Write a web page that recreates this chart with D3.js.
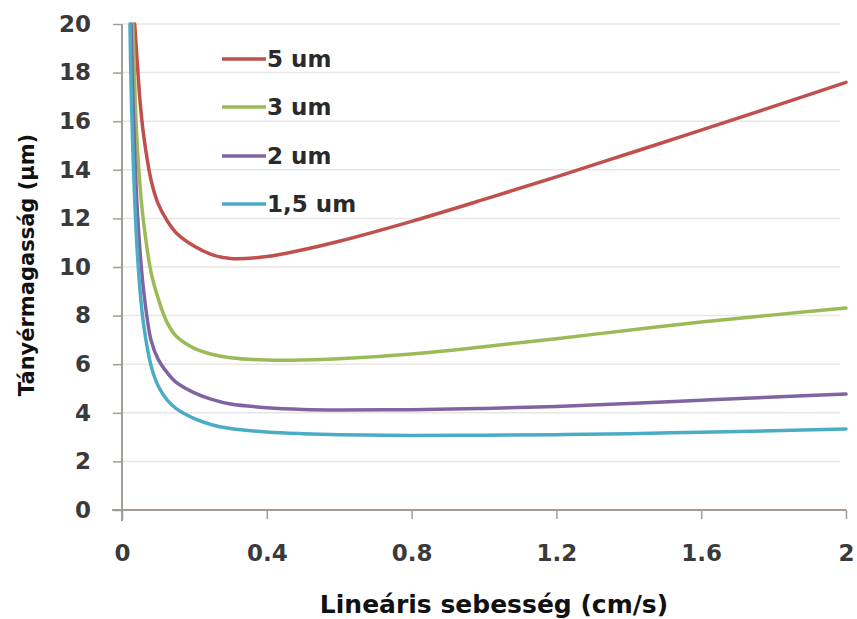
<!DOCTYPE html>
<html>
<head>
<meta charset="utf-8">
<script src="https://cdn.jsdelivr.net/npm/d3@7"></script>
<style>
  html, body { margin: 0; padding: 0; background: #ffffff; }
  svg { display: block; }
</style>
</head>
<body>
<script>
// ---- data ----
const seriesNames = ["5 um", "3 um", "2 um", "1,5 um"];
const seriesColors = ["#C0504D", "#9BBB59", "#8064A2", "#4BACC6"];

const u5  = [0.035,0.04,0.05,0.06,0.08,0.1,0.125,0.15,0.2,0.25,0.3,0.4,0.5,0.6,0.8,1.0,1.2,1.4,1.6,1.8,2.0];
const h5  = [20,18.9,16.8,15.4,13.6,12.6,11.9,11.4,10.85,10.5,10.35,10.43,10.71,11.06,11.88,12.78,13.71,14.67,15.63,16.61,17.6];

const u3  = [0.03,0.035,0.04,0.05,0.06,0.08,0.1,0.125,0.15,0.2,0.25,0.3,0.4,0.5,0.6,0.8,1.0,1.2,1.4,1.6,1.8,2.0];
const h3  = [20,17.6,15.6,13.3,11.8,9.8,8.7,7.7,7.15,6.65,6.4,6.27,6.17,6.17,6.22,6.42,6.72,7.05,7.4,7.74,8.03,8.31];

const u2  = [0.025,0.03,0.04,0.05,0.06,0.08,0.1,0.125,0.15,0.2,0.25,0.3,0.4,0.5,0.6,0.8,1.0,1.2,1.4,1.6,1.8,2.0];
const h2  = [20,17.0,13.0,10.6,9.0,7.0,6.2,5.65,5.25,4.82,4.54,4.36,4.21,4.14,4.12,4.13,4.18,4.26,4.38,4.52,4.65,4.77];

const u15 = [0.022,0.025,0.03,0.04,0.05,0.06,0.08,0.1,0.125,0.15,0.2,0.25,0.3,0.4,0.5,0.6,0.8,1.0,1.2,1.4,1.6,1.8,2.0];
const h15 = [20,17.5,14.8,11.2,9.0,7.6,5.95,5.1,4.52,4.17,3.76,3.5,3.35,3.21,3.14,3.1,3.07,3.08,3.1,3.14,3.2,3.26,3.33];

const xTicks = [0, 0.4, 0.8, 1.2, 1.6, 2];
const xTickLabels = ["0", "0.4", "0.8", "1.2", "1.6", "2"];
const yTicks = [0, 2, 4, 6, 8, 10, 12, 14, 16, 18, 20];

const xTitle = "Lineáris sebesség (cm/s)";
const yTitle = "Tányérmagasság (µm)";

// ---- drawing ----
const W = 857, H = 619;
const svg = d3.select("body").append("svg").attr("width", W).attr("height", H);

const x = d3.scaleLinear().domain([0, 2]).range([122, 846]);
const y = d3.scaleLinear().domain([0, 20]).range([510, 24]);

const FONT = "'DejaVu Sans', Verdana, sans-serif";
const axisColor = "#a49c96";

// gridlines
svg.append("g").selectAll("line").data(yTicks.filter(d => d > 0)).join("line")
  .attr("x1", x(0)).attr("x2", 840)
  .attr("y1", d => y(d)).attr("y2", d => y(d))
  .attr("stroke", "#e6e6e6").attr("stroke-width", 1.5);

// y axis
const yAxis = d3.axisLeft(y).tickValues(yTicks).tickSize(9).tickFormat(d3.format("d"));
const gy = svg.append("g").attr("transform", `translate(${x(0)},0)`).call(yAxis);
gy.select(".domain").remove();
gy.selectAll(".tick line").attr("stroke", axisColor).attr("stroke-width", 1.5);
gy.selectAll(".tick text").attr("x", -31).attr("font-family", FONT).attr("font-size", 23)
  .attr("font-weight", "bold").attr("fill", "#3a3a3a");
svg.append("line").attr("x1", x(0)).attr("x2", x(0)).attr("y1", y(20)).attr("y2", 521)
  .attr("stroke", axisColor).attr("stroke-width", 2);

// x axis
const xAxis = d3.axisBottom(x).tickValues(xTicks).tickSize(9).tickFormat((d, i) => xTickLabels[i]);
const gx = svg.append("g").attr("transform", `translate(0,${y(0)})`).call(xAxis);
gx.select(".domain").remove();
gx.selectAll(".tick line").attr("stroke", axisColor).attr("stroke-width", 1.5);
gx.selectAll(".tick text").attr("y", 35).attr("font-family", FONT).attr("font-size", 23)
  .attr("font-weight", "bold").attr("fill", "#3a3a3a");
svg.append("line").attr("x1", 112).attr("x2", x(2)).attr("y1", y(0)).attr("y2", y(0))
  .attr("stroke", axisColor).attr("stroke-width", 2);

// series
const data = [
  u5.map((u, i) => [u, h5[i]]),
  u3.map((u, i) => [u, h3[i]]),
  u2.map((u, i) => [u, h2[i]]),
  u15.map((u, i) => [u, h15[i]])
];
const line = d3.line().x(d => x(d[0])).y(d => y(d[1])).curve(d3.curveCatmullRom.alpha(0.5));
data.forEach((pts, i) => {
  svg.append("path").datum(pts).attr("d", line)
    .attr("fill", "none").attr("stroke", seriesColors[i]).attr("stroke-width", 3.5)
    .attr("stroke-linejoin", "round").attr("stroke-linecap", "round");
});

// legend
const legendY = [59, 107, 156, 204];
const lg = svg.append("g");
seriesNames.forEach((name, i) => {
  lg.append("line").attr("x1", 222).attr("x2", 266).attr("y1", legendY[i]).attr("y2", legendY[i])
    .attr("stroke", seriesColors[i]).attr("stroke-width", 3.5);
  lg.append("text").attr("x", 267).attr("y", legendY[i]).attr("dy", "0.36em")
    .attr("font-family", FONT).attr("font-size", 23).attr("font-weight", "bold")
    .attr("fill", "#2a2a2a").text(name);
});

// axis titles
svg.append("text").attr("x", 494).attr("y", 613).attr("text-anchor", "middle")
  .attr("font-family", FONT).attr("font-size", 25).attr("font-weight", "bold")
  .attr("fill", "#111").text(xTitle);
svg.append("text").attr("transform", "translate(34,265) rotate(-90)").attr("text-anchor", "middle")
  .attr("font-family", FONT).attr("font-size", 21).attr("font-weight", "bold")
  .attr("fill", "#111").text(yTitle);
</script>
</body>
</html>
